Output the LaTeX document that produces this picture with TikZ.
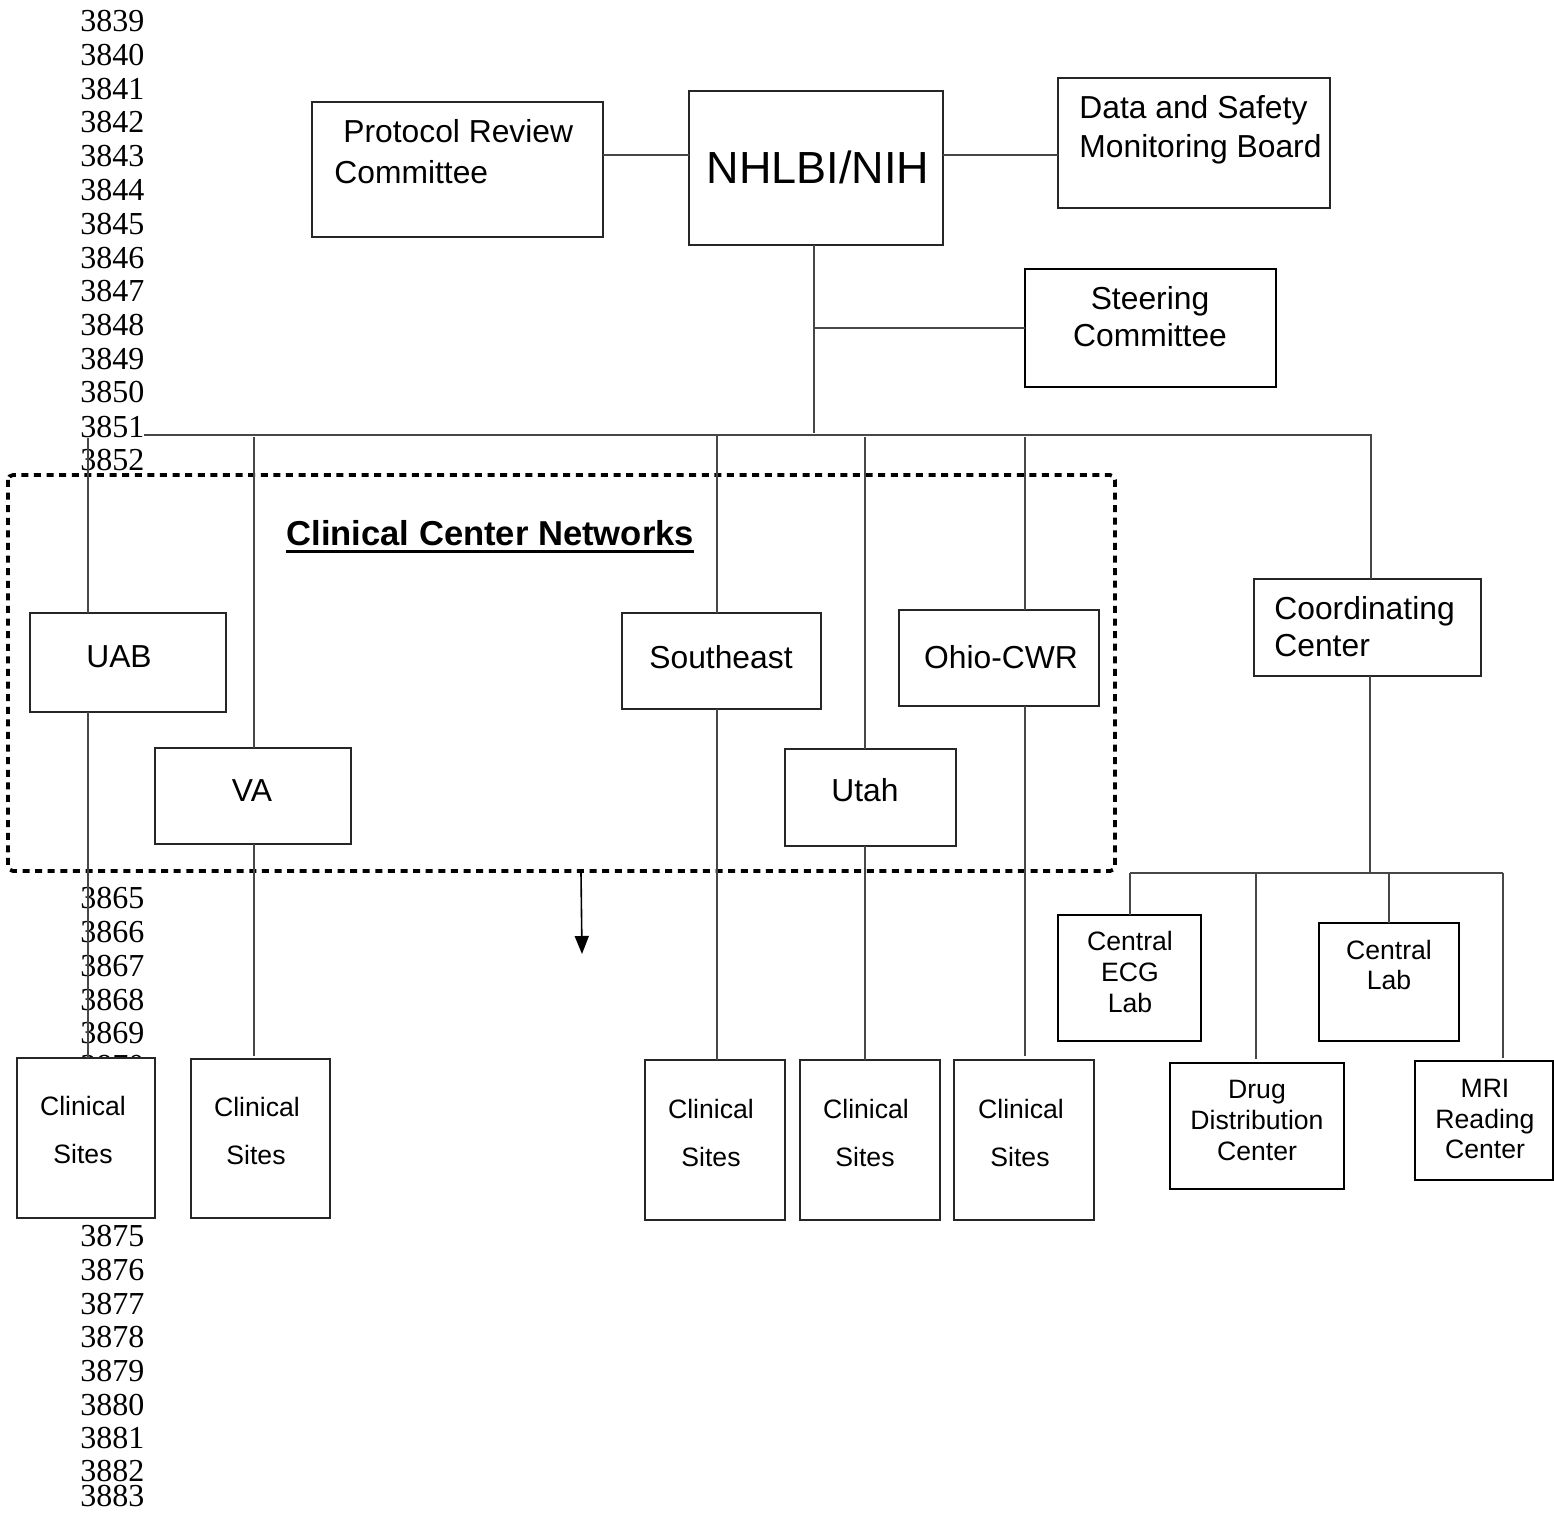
\documentclass[tikz,border=0pt]{standalone}
\usepackage{fontspec}
\setmainfont{Liberation Serif}
\setsansfont{Liberation Sans}
\usetikzlibrary{arrows.meta,calc}
\tikzset{
  conn/.style={draw=black!72, line width=0.6pt},
  box/.style={draw=black!85, line width=0.7pt, fill=white, inner sep=0pt, outer sep=0pt, anchor=north west},
  thickbox/.style={box, draw=black, line width=1.2pt},
  bigtxt/.style={font=\sffamily\fontsize{15.9}{19}\selectfont, inner sep=0pt, anchor=base},
  smalltxt/.style={font=\sffamily\fontsize{13.3}{16}\selectfont, inner sep=0pt, anchor=base},
  lnum/.style={font=\rmfamily\fontsize{16}{19}\selectfont, inner sep=0pt, anchor=base west},
  netframe/.style={draw=black, line width=1.9pt, dash pattern=on 3.5pt off 2.8pt, rounded corners=2.5pt, fill=white},
}
\begin{document}
\begin{tikzpicture}[x=0.5pt,y=-0.5pt]
\path[use as bounding box, fill=white] (0,0) rectangle (1554,1513);

% line numbers
\foreach \n/\y in {3839/21,3840/55,3841/89,3842/122,3843/156,3844/190,3845/224,3846/258,3847/291,3848/325,3849/359,3850/392,3852/460,3865/898,3866/932,3867/966,3868/1000,3869/1033,3870/1066,3875/1236,3876/1270,3877/1304,3878/1337,3879/1371,3880/1405,3881/1438,3882/1471,3883/1496}
  \node[lnum] (ln\n) at (80,\y+10.8) {\n};

% dashed network frame
\draw[netframe] (8,475) rectangle (1115,871);

% boxes
\node[box, minimum width=145.5pt, minimum height=67.5pt] (prc) at (312,102) {};
\node[box, minimum width=127pt, minimum height=77pt] (nhlbi) at (689,91) {};
\node[box, minimum width=136pt, minimum height=65pt] (dsmb) at (1058,78) {};
\node[thickbox, minimum width=125.5pt, minimum height=59pt] (steer) at (1025,269) {};
\node[box, minimum width=98pt, minimum height=49.5pt] (uab) at (30,613) {};
\node[box, minimum width=98pt, minimum height=48pt] (va) at (155,748) {};
\node[box, minimum width=99.5pt, minimum height=48pt] (se) at (622,613) {};
\node[box, minimum width=85.5pt, minimum height=48.5pt] (utah) at (785,749) {};
\node[box, minimum width=100pt, minimum height=48pt] (ohio) at (899,610) {};
\node[box, minimum width=113.5pt, minimum height=48.5pt] (coord) at (1254,579) {};
\node[box, minimum width=69pt, minimum height=80pt] (cs1) at (17,1058) {};
\node[box, minimum width=69.5pt, minimum height=79.5pt] (cs2) at (191,1059) {};
\node[box, minimum width=70pt, minimum height=80pt] (cs3) at (645,1060) {};
\node[box, minimum width=70pt, minimum height=80pt] (cs4) at (800,1060) {};
\node[box, minimum width=70pt, minimum height=80pt] (cs5) at (954,1060) {};
\node[thickbox, minimum width=71.5pt, minimum height=63pt] (ecg) at (1058,915) {};
\node[thickbox, minimum width=70pt, minimum height=59pt] (clab) at (1319,923) {};
\node[thickbox, minimum width=87pt, minimum height=63pt] (drug) at (1170,1063) {};
\node[thickbox, minimum width=69pt, minimum height=59.5pt] (mri) at (1415,1061) {};

% tap coordinates
\coordinate (yTop) at (0,155);
\coordinate (busL) at (88,435);
\coordinate (busR) at (1372,435);
\coordinate (tVA) at (254,435);
\coordinate (tSE) at (717,435);
\coordinate (tUT) at (865,435);
\coordinate (tOH) at (1025,435);
\coordinate (tCC) at (1371,435);
\coordinate (tN) at (814,433);
\coordinate (tST) at (814,328);
\coordinate (subL) at (1130,873);
\coordinate (subR) at (1503,873);
\coordinate (tCCb) at (1370,873);
\coordinate (tDR) at (1256,873);
\coordinate (tCL) at (1389,873);

% connectors
\draw[conn] (prc.east |- yTop) -- (nhlbi.west |- yTop);
\draw[conn] (nhlbi.east |- yTop) -- (dsmb.west |- yTop);
\draw[conn] (nhlbi.south -| tN) -- (tN);
\draw[conn] (tST) -- (steer.west);
\draw[conn] (busL) -- (busR);
\draw[conn] ([yshift=-1pt]busL) -- (uab.north -| busL);
\draw[conn] (uab.south -| busL) -- (cs1.north -| busL);
\draw[conn] ([yshift=-1pt]tVA) -- (va.north -| tVA);
\draw[conn] (va.south -| tVA) -- ([yshift=1.5pt]cs2.north -| tVA);
\draw[conn] (tSE) -- (se.north -| tSE);
\draw[conn] (se.south -| tSE) -- (cs3.north -| tSE);
\draw[conn] ([yshift=-1pt]tUT) -- (utah.north -| tUT);
\draw[conn] (utah.south -| tUT) -- (cs4.north -| tUT);
\draw[conn] ([yshift=-1pt]tOH) -- (ohio.north -| tOH);
\draw[conn] (ohio.south -| tOH) -- ([yshift=2pt]cs5.north -| tOH);
\draw[conn] (tCC) -- (coord.north -| tCC);
\draw[conn] (coord.south -| tCCb) -- (tCCb);
\draw[conn] (subL) -- (subR);
\draw[conn] (subL) -- (ecg.north -| subL);
\draw[conn] (tDR) -- ([yshift=2pt]drug.north -| tDR);
\draw[conn] (tCL) -- (clab.north -| tCL);
\draw[conn] (subR) -- ([yshift=1.5pt]mri.north -| subR);

% line number over the bus
\node[lnum, fill=white, inner sep=0pt] (ln3851) at (80,437.8) {3851};

% arrow
\coordinate (arS) at (581,873);
\coordinate (arE) at (582,954);
\draw[draw=black, line width=0.8pt, -{Triangle[width=7pt,length=9pt]}] (arS) -- (arE);

% texts
\node[bigtxt, anchor=base west] (tprc1) at (343,142.5) {Protocol Review};
\node[bigtxt, anchor=base west] (tprc2) at (334,183.5) {Committee};
\node[font=\sffamily\fontsize{22.5}{26}\selectfont, inner sep=0pt, anchor=base] (tnhlbi) at (818,184) {NHLBI/NIH};
\node[bigtxt, anchor=base west] (tdsmb1) at (1079,118.5) {Data and Safety};
\node[bigtxt, anchor=base west] (tdsmb2) at (1079,157.5) {Monitoring Board};
\node[bigtxt] (tst1) at (1150,309.5) {Steering};
\node[bigtxt] (tst2) at (1150,346.5) {Committee};
\node[font=\sffamily\bfseries\fontsize{17.3}{20}\selectfont, inner sep=0pt, anchor=base west] (ttitle) at (286,546) {Clinical Center Networks};
\draw[line width=1.5pt] ($(ttitle.base west)+(0,5.5)$) -- ($(ttitle.base east)+(0,5.5)$);
\node[bigtxt] (tuab) at (119,667.5) {UAB};
\node[bigtxt] (tva) at (252,801.5) {VA};
\node[bigtxt] (tse) at (721,668.5) {Southeast};
\node[bigtxt] (tohio) at (1001,668.5) {Ohio-CWR};
\node[bigtxt] (tutah) at (865,801.5) {Utah};
\node[bigtxt, anchor=base west] (tcc1) at (1274,619.5) {Coordinating};
\node[bigtxt, anchor=base west] (tcc2) at (1274,656.5) {Center};

\node[smalltxt] (tcs1a) at (83,1115.5) {Clinical};
\node[smalltxt] (tcs1b) at (83,1163.5) {Sites};
\node[smalltxt] (tcs2a) at (257,1116.5) {Clinical};
\node[smalltxt] (tcs2b) at (256,1164.5) {Sites};
\node[smalltxt] (tcs3a) at (711,1118.5) {Clinical};
\node[smalltxt] (tcs3b) at (711,1166.5) {Sites};
\node[smalltxt] (tcs4a) at (866,1118.5) {Clinical};
\node[smalltxt] (tcs4b) at (865,1166.5) {Sites};
\node[smalltxt] (tcs5a) at (1021,1118.5) {Clinical};
\node[smalltxt] (tcs5b) at (1020,1166.5) {Sites};

\node[smalltxt] (tecg1) at (1130,950.5) {Central};
\node[smalltxt] (tecg2) at (1130,981.5) {ECG};
\node[smalltxt] (tecg3) at (1130,1012.5) {Lab};
\node[smalltxt] (tcl1) at (1389,959.5) {Central};
\node[smalltxt] (tcl2) at (1389,989.5) {Lab};
\node[smalltxt] (tdr1) at (1257,1098.5) {Drug};
\node[smalltxt] (tdr2) at (1257,1129.5) {Distribution};
\node[smalltxt] (tdr3) at (1257,1160.5) {Center};
\node[smalltxt] (tmri1) at (1485,1097.5) {MRI};
\node[smalltxt] (tmri2) at (1485,1128.5) {Reading};
\node[smalltxt] (tmri3) at (1485,1158.5) {Center};
\end{tikzpicture}
\end{document}
